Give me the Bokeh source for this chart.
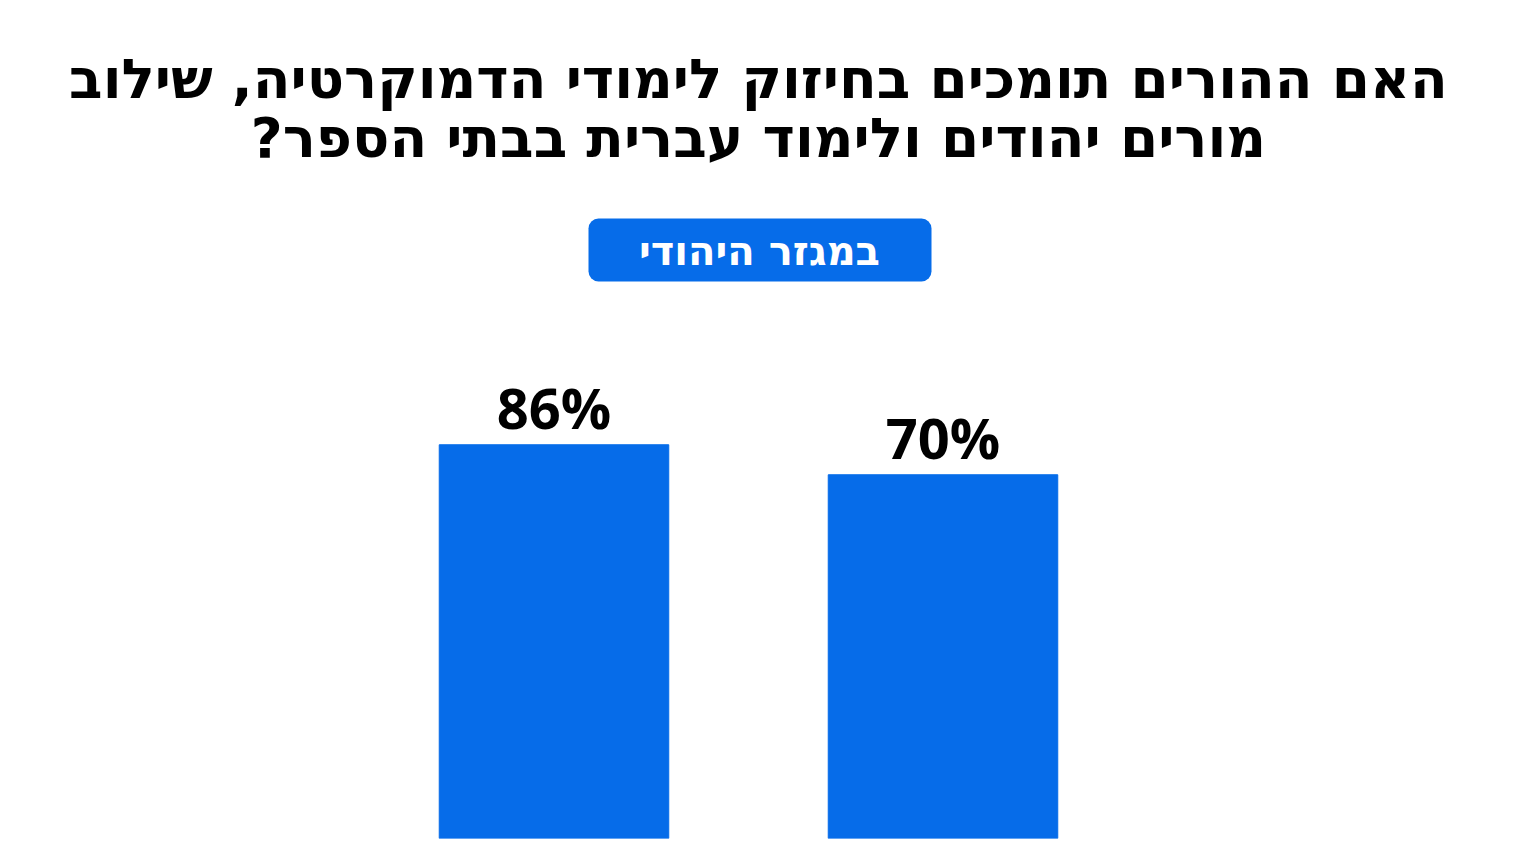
from bokeh.plotting import figure
from bokeh.models import FactorRange, Range1d, Label, BoxAnnotation, ColumnDataSource, LabelSet
from bokeh.core.properties import value
from bokeh.embed import file_html
from bokeh.resources import INLINE

# data
categories = ["לימודי דמוקרטיה", "שילוב מורים יהודים"]
values = [86, 70]
labels = ["86%", "70%"]

title_lines = ["האם ההורים תומכים בחיזוק לימודי הדמוקרטיה, שילוב",
               "מורים יהודים ולימוד עברית בבתי הספר?\u200f"]
badge = "במגזר היהודי"

BLUE = "#066ce9"
NUM_FONT = "Open Sans"
HEB_FONT = "DejaVu Sans"

src = ColumnDataSource(dict(cat=categories, val=values, lab=labels))

p = figure(width=1512, height=845, output_backend="svg", toolbar_location=None,
           x_range=FactorRange(*categories, range_padding=0.9023, range_padding_units="absolute"),
           y_range=Range1d(-124, 318.67))
p.min_border_left = 8
p.min_border_right = 24
p.min_border_top = 8
p.min_border_bottom = 7
p.outline_line_color = None
p.grid.visible = False
p.axis.visible = False
p.background_fill_color = "white"
p.border_fill_color = "white"

p.vbar(x="cat", top="val", bottom=-124, width=0.59, color=BLUE, source=src)

p.add_layout(LabelSet(x="cat", y="val", text="lab", source=src, y_offset=16,
                      text_align="center", text_baseline="alphabetic",
                      text_font=value(NUM_FONT), text_font_style="bold",
                      text_font_size=value("56px"), text_color="black"))

# title, two centered lines
p.add_layout(Label(x=750, y=760, x_units="screen", y_units="screen", text=title_lines[0],
                   text_align="center", text_baseline="alphabetic", text_font=HEB_FONT,
                   text_font_style="bold", text_font_size="55px", text_color="black"))
p.add_layout(Label(x=750, y=701, x_units="screen", y_units="screen", text=title_lines[1],
                   text_align="center", text_baseline="alphabetic", text_font=HEB_FONT,
                   text_font_style="bold", text_font_size="55px", text_color="black"))

# blue pill
p.add_layout(BoxAnnotation(left=580, right=923, top=620, bottom=557,
                           left_units="screen", right_units="screen",
                           top_units="screen", bottom_units="screen",
                           fill_color=BLUE, fill_alpha=1, line_color=None,
                           border_radius=10))
p.add_layout(Label(x=751, y=588, x_units="screen", y_units="screen", text=badge,
                   text_align="center", text_baseline="middle", text_font=HEB_FONT,
                   text_font_style="bold", text_font_size="40px", text_color="white"))

open("out.html", "w").write(file_html(p, INLINE))
